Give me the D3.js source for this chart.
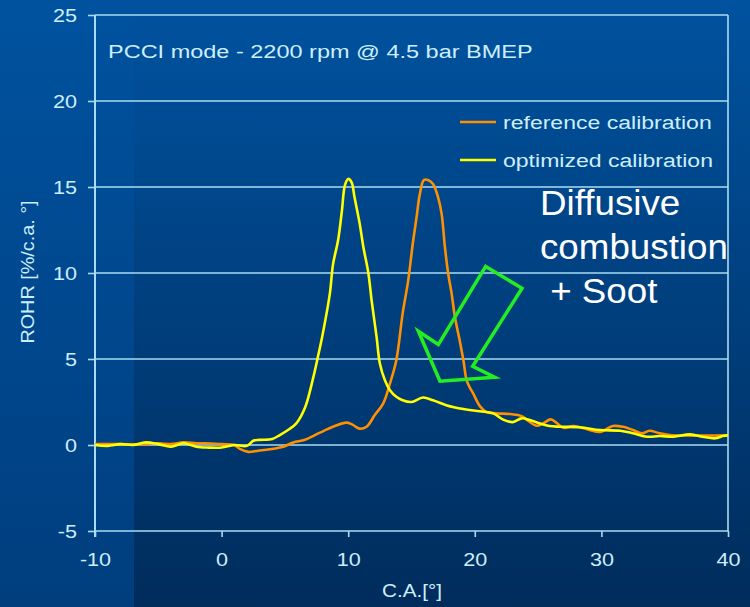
<!DOCTYPE html>
<html><head><meta charset="utf-8">
<script src="https://cdn.jsdelivr.net/npm/d3@7/dist/d3.min.js"></script>
<style>
html,body{margin:0;padding:0;background:#003f80;}
svg{display:block;font-family:"Liberation Sans",Arial,sans-serif;}
</style></head>
<body>
<svg id="chart" width="750" height="607"></svg>
<script>
// ---- data ----
const xTicks = [-10, 0, 10, 20, 30, 40];
const yTicks = [-5, 0, 5, 10, 15, 20, 25];
const seriesNames = ["reference calibration", "optimized calibration"];
const seriesColors = ["#ff9000", "#ffff00"];

const refX = [-10,-8,-6,-5,-4,-3,-2,-1.3,0,1,1.45,2.1,2.9,3.8,4.87,5.66,6.58,7.77,8.8,9.87,10.3,10.9,11.45,12.1,12.77,13.3,13.8,14.3,14.74,15.1,15.4,15.66,15.98,16.3,16.7,17.1,17.38,17.64,17.9,18.17,18.43,18.8,19.1,19.35,19.6,19.87,20.4,20.9,21.7,22.8,23.7,24.2,24.9,25.4,26.0,26.5,27.0,27.8,28.6,29.6,30.0,30.9,31.7,32.5,33.2,33.8,34.6,35.4,36.7,38.3,40];
const refY = [0.05,0.05,0.05,0.1,0.05,0.15,0.1,0.1,0.05,0,-0.23,-0.4,-0.33,-0.25,-0.1,0.15,0.3,0.72,1.06,1.3,1.2,0.95,1.06,1.74,2.42,3.58,4.93,7.64,9.57,11.7,13.24,14.6,15.41,15.41,15.18,14.4,13.44,11.5,9.96,8.8,7.44,6.1,4.93,3.77,3.35,3.0,2.26,1.93,1.84,1.8,1.68,1.41,1.12,1.26,1.49,1.26,1.0,1.1,0.97,0.77,0.77,1.1,1.06,0.87,0.68,0.83,0.68,0.58,0.55,0.55,0.56];

const optX = [-10,-9,-8,-7,-6,-5,-4,-3,-2,-1,0,1,2,2.5,3,4,4.6,5.3,5.9,6.6,7.2,7.6,8.0,8.55,8.8,9.2,9.5,9.74,10.0,10.27,10.5,10.9,11.2,11.6,11.85,12.24,12.5,12.9,13.3,13.8,14.3,15.0,15.9,16.7,17.8,19.1,20.4,21.45,22.2,23.0,23.7,24.35,25.1,25.9,26.7,28.3,29.9,31.5,32.5,33.6,34.6,35.7,37.0,38.0,39.0,39.6,40];
const optY = [0,-0.05,0.05,0,0.15,0.05,-0.1,0.1,-0.1,-0.15,-0.15,0,-0.05,0.25,0.3,0.35,0.58,0.9,1.26,2.2,3.8,5.1,6.5,8.8,10.5,11.9,13.6,15.1,15.47,15.27,14.4,12.9,11.5,9.96,8.4,6.3,4.74,3.77,3.19,2.8,2.6,2.5,2.76,2.6,2.3,2.09,1.96,1.84,1.49,1.33,1.55,1.45,1.26,1.1,1.06,1.03,0.87,0.83,0.68,0.48,0.52,0.48,0.62,0.48,0.39,0.52,0.56];

// annotation arrow (data coordinates)
const arrowX = [20.86,23.73,19.83,21.57,17.25,15.54,17.12];
const arrowY = [10.38,9.11,4.58,3.94,3.71,6.61,5.84];

const subtitle = "PCCI mode - 2200 rpm @ 4.5 bar BMEP";
const xTitle = "C.A.[°]";
const yTitle = "ROHR [%/c.a. °]";
const noteLines = ["Diffusive", "combustion", " + Soot"];

// ---- drawing ----
const svg = d3.select("#chart");
const W = 750, H = 607;
const defs = svg.append("defs");
const g1 = defs.append("linearGradient").attr("id","bgL").attr("x1",0).attr("y1",0).attr("x2",0).attr("y2",1);
g1.append("stop").attr("offset","0%").attr("stop-color","#00529f");
g1.append("stop").attr("offset","100%").attr("stop-color","#003e7e");
const g2 = defs.append("linearGradient").attr("id","bgR").attr("x1",0).attr("y1",0).attr("x2",0).attr("y2",1);
g2.append("stop").attr("offset","0%").attr("stop-color","#00529f");
g2.append("stop").attr("offset","15%").attr("stop-color","#004d96");
g2.append("stop").attr("offset","100%").attr("stop-color","#002c5c");

svg.append("rect").attr("x",0).attr("y",0).attr("width",W).attr("height",H).attr("fill","url(#bgL)");
svg.append("rect").attr("x",134).attr("y",0).attr("width",W-134).attr("height",H).attr("fill","url(#bgR)");

const x = d3.scaleLinear().domain([-10,40]).range([95,728]);
const y = d3.scaleLinear().domain([-5,25]).range([531,15]);

const gridColor = "#a9dcf2";
const textColor = "#cdeefc";
const fmt = d => String(d);

// gridlines
svg.append("g").selectAll("line").data(yTicks).join("line")
  .attr("x1",x(-10)).attr("x2",x(40))
  .attr("y1",d=>y(d)).attr("y2",d=>y(d))
  .attr("stroke",gridColor).attr("stroke-width",1.6);
// right border
svg.append("line").attr("x1",x(40)).attr("x2",x(40)).attr("y1",y(25)).attr("y2",y(-5))
  .attr("stroke",gridColor).attr("stroke-width",1.6);

// y axis
const yAxis = svg.append("g").attr("transform",`translate(${x(-10)},0)`)
  .call(d3.axisLeft(y).tickValues(yTicks).tickSize(7).tickFormat(fmt));
yAxis.select(".domain").attr("stroke",gridColor).attr("stroke-width",2).attr("d",`M0,${y(25)}V${y(-5)+6}`);
yAxis.selectAll(".tick line").attr("stroke",gridColor).attr("stroke-width",1.6);
yAxis.selectAll(".tick text").attr("x",0).attr("dy",null)
  .attr("transform","translate(-18,6.5) scale(1.2,1)")
  .attr("fill",textColor).attr("font-size",18).attr("font-family","Liberation Sans, Arial, sans-serif");

// x axis
const xAxis = svg.append("g").attr("transform",`translate(0,${y(-5)})`)
  .call(d3.axisBottom(x).tickValues(xTicks).tickSize(6).tickFormat(fmt));
xAxis.select(".domain").remove();
xAxis.selectAll(".tick line").attr("stroke",gridColor).attr("stroke-width",1.6);
xAxis.selectAll(".tick text").attr("y",0).attr("dy",null)
  .attr("transform","translate(0,35) scale(1.2,1)")
  .attr("fill",textColor).attr("font-size",18).attr("font-family","Liberation Sans, Arial, sans-serif");

// axis titles
svg.append("text").attr("x",0).attr("y",0)
  .attr("transform",`translate(412,597) scale(1.15,1)`)
  .attr("text-anchor","middle").attr("fill",textColor).attr("font-size",18).text(xTitle);
svg.append("text").attr("x",0).attr("y",0)
  .attr("transform",`translate(34,272) rotate(-90) scale(1.1,1)`)
  .attr("text-anchor","middle").attr("fill",textColor).attr("font-size",18).text(yTitle);

// subtitle
svg.append("text").attr("transform","translate(108,58) scale(1.237,1)")
  .attr("fill",textColor).attr("font-size",19).text(subtitle);

// series
const line = d3.line().x(d=>x(d[0])).y(d=>y(d[1])).curve(d3.curveCatmullRom.alpha(0.5));
const refData = refX.map((v,i)=>[v,refY[i]]);
const optData = optX.map((v,i)=>[v,optY[i]]);
svg.append("path").datum(refData).attr("d",line).attr("fill","none")
  .attr("stroke",seriesColors[0]).attr("stroke-width",2.6).attr("stroke-linejoin","round");
svg.append("path").datum(optData).attr("d",line).attr("fill","none")
  .attr("stroke",seriesColors[1]).attr("stroke-width",2.6).attr("stroke-linejoin","round");

// legend
const leg = svg.append("g");
seriesNames.forEach((name,i)=>{
  const ly = 122 + i*38;
  leg.append("line").attr("x1",460).attr("x2",496).attr("y1",ly).attr("y2",ly)
    .attr("stroke",seriesColors[i]).attr("stroke-width",2.5);
  leg.append("text").attr("transform",`translate(503,${ly+6.5}) scale(1.213,1)`)
    .attr("fill",textColor).attr("font-size",19).text(name);
});

// annotation arrow
const arrowPts = arrowX.map((v,i)=>[x(v),y(arrowY[i])]);
svg.append("path").attr("d","M"+arrowPts.map(p=>p.join(",")).join("L")+"Z")
  .attr("fill","none").attr("stroke","#22ee22").attr("stroke-width",3.5).attr("stroke-linejoin","miter");

// annotation text
noteLines.forEach((t,i)=>{
  svg.append("text").attr("transform",`translate(540,${215+i*44}) scale(1.05,1)`)
    .attr("fill","#ffffff").attr("font-size",35).attr("xml:space","preserve")
    .style("white-space","pre").text(t);
});
</script>
</body></html>
